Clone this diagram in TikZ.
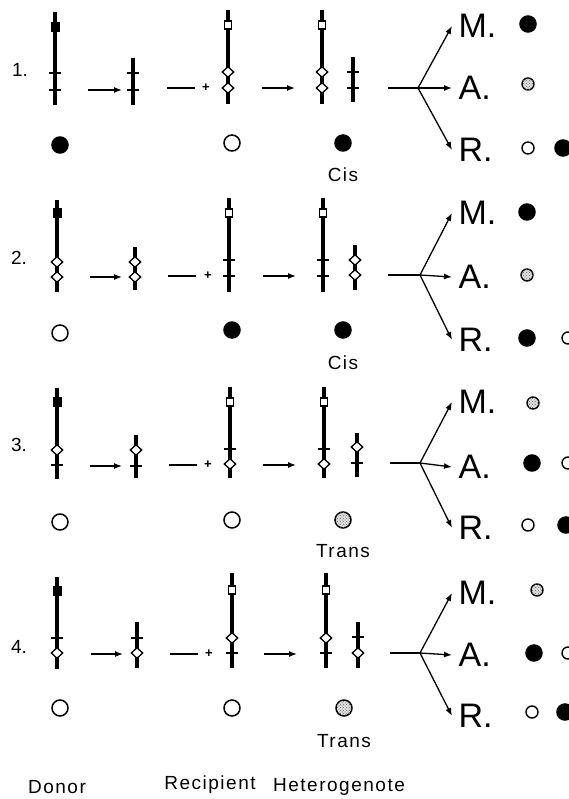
\documentclass[tikz,border=0pt]{standalone}
\usepackage{fontspec}
\setmainfont{Liberation Sans}
\usetikzlibrary{arrows.meta, shapes.geometric, patterns}

\tikzset{
	chrom/.style={line width=3.5pt},
	tk/.style={fill, minimum width=12pt, minimum height=2.2pt},
	sqf/.style={fill, minimum width=9pt, minimum height=10pt},
	sqo/.style={draw, fill=white, line width=1.3pt, minimum width=7pt, minimum height=8pt},
	dia/.style={diamond, draw, fill=white, line width=1.3pt, minimum width=12pt, minimum height=11pt},
	big/.style={circle, draw, line width=1.5pt, minimum size=16pt},
	small/.style={circle, draw, line width=1.4pt, minimum size=12pt},
	full/.style={fill=black},
	empty/.style={fill=white},
	stip/.style={fill=black!12, postaction={pattern=crosshatch dots, pattern color=black!60}},
	rownum/.style={font=\fontsize{19}{19}\selectfont},
	mar/.style={font=\fontsize{34}{34}\selectfont, anchor=west, inner sep=6pt},
	lbl/.style={font=\fontsize{19}{19}\selectfont\addfontfeature{LetterSpace=8}},
	plus/.style={font=\fontsize{13}{13}\selectfont\bfseries}
}

\begin{document}
\begin{tikzpicture}[x=1pt, y=-1pt, >={Latex[length=8pt,width=6pt]}, line width=1.3pt, inner sep=0pt]
	\useasboundingbox (0,0) rectangle (569,799);

	% ---- 1.
	\node[rownum] (n1) at (20,70) {1.};
	\draw[chrom] (55,12) -- (55,105);
	\node[sqf] (d1sq) at (55,27) {};
	\node[tk] (d1t1) at (55,73) {};
	\node[tk] (d1t2) at (55,90) {};
	\node[big, full] (d1c) at (60,145) {};

	\coordinate (f1a) at (88,90);
	\coordinate (f1b) at (122,90);
	\draw[->] (f1a) -- (f1b);
	\draw[chrom] (133,58) -- (133,105);
	\node[tk] (f1t1) at (133,73) {};
	\node[tk] (f1t2) at (133,90) {};

	\coordinate (p1a) at (167,88);
	\coordinate (p1b) at (195,88);
	\draw (p1a) -- (p1b);
	\node[plus] (p1) at (206,88) {+};

	\draw[chrom] (228,10) -- (228,104);
	\node[sqo] (r1sq) at (228,25) {};
	\node[dia] (r1d1) at (228,72) {};
	\node[dia] (r1d2) at (228,88) {};
	\node[big, empty] (r1c) at (232,143) {};

	\coordinate (h1a) at (262,88);
	\coordinate (h1b) at (295,88);
	\draw[->] (h1a) -- (h1b);
	\draw[chrom] (322,10) -- (322,104);
	\node[sqo] (h1sq) at (322,25) {};
	\node[dia] (h1d1) at (322,72) {};
	\node[dia] (h1d2) at (322,88) {};
	\draw[chrom] (353,57) -- (353,102);
	\node[tk] (h1t1) at (353,72) {};
	\node[tk] (h1t2) at (353,88) {};
	\node[big, full] (h1c) at (343,143) {};
	\node[lbl] (h1l) at (343,175) {Cis};

	\coordinate (s1) at (388,88);
	\coordinate (j1) at (418,88);
	\node[mar] (m1) at (452,26) {M.};
	\node[mar] (a1) at (452,88) {A.};
	\node[mar] (rr1) at (452,150) {R.};
	\draw (s1) -- (j1);
	\draw[->] (j1) -- (m1.west);
	\draw[->] (j1) -- (a1.west);
	\draw[->] (j1) -- (rr1.west);
	\node[big, full] (m1c) at (528,24) {};
	\node[small, stip] (a1c) at (528,84) {};
	\node[small, empty] (rr1c1) at (528,148) {};
	\node[big, full] (rr1c2) at (563,148) {};

	% ---- 2.
	\node[rownum] (n2) at (19,258) {2.};
	\draw[chrom] (57,200) -- (57,292);
	\node[sqf] (d2sq) at (57,213) {};
	\node[dia] (d2d1) at (57,262) {};
	\node[dia] (d2d2) at (57,277) {};
	\node[big, empty] (d2c) at (60,333) {};

	\coordinate (f2a) at (90,277);
	\coordinate (f2b) at (122,277);
	\draw[->] (f2a) -- (f2b);
	\draw[chrom] (135,247) -- (135,290);
	\node[dia] (f2d1) at (135,262) {};
	\node[dia] (f2d2) at (135,277) {};

	\coordinate (p2a) at (168,276);
	\coordinate (p2b) at (196,276);
	\draw (p2a) -- (p2b);
	\node[plus] (p2) at (208,276) {+};

	\draw[chrom] (229,198) -- (229,292);
	\node[sqo] (r2sq) at (229,213) {};
	\node[tk] (r2t1) at (229,260) {};
	\node[tk] (r2t2) at (229,276) {};
	\node[big, full] (r2c) at (232,330) {};

	\coordinate (h2a) at (263,276);
	\coordinate (h2b) at (296,276);
	\draw[->] (h2a) -- (h2b);
	\draw[chrom] (323,198) -- (323,292);
	\node[sqo] (h2sq) at (323,213) {};
	\node[tk] (h2t1) at (323,260) {};
	\node[tk] (h2t2) at (323,276) {};
	\draw[chrom] (355,245) -- (355,290);
	\node[dia] (h2d1) at (355,260) {};
	\node[dia] (h2d2) at (355,275) {};
	\node[big, full] (h2c) at (343,330) {};
	\node[lbl] (h2l) at (343,363) {Cis};

	\coordinate (s2) at (388,275);
	\coordinate (j2) at (420,275);
	\node[mar] (m2) at (452,213) {M.};
	\node[mar] (a2) at (452,277) {A.};
	\node[mar] (rr2) at (452,340) {R.};
	\draw (s2) -- (j2);
	\draw[->] (j2) -- (m2.west);
	\draw[->] (j2) -- (a2.west);
	\draw[->] (j2) -- (rr2.west);
	\node[big, full] (m2c) at (527,212) {};
	\node[small, stip] (a2c) at (527,275) {};
	\node[big, full] (rr2c1) at (527,338) {};
	\node[small, empty] (rr2c2) at (568,338) {};

	% ---- 3.
	\node[rownum] (n3) at (19,445) {3.};
	\draw[chrom] (57,388) -- (57,479);
	\node[sqf] (d3sq) at (57,402) {};
	\node[dia] (d3d1) at (57,450) {};
	\node[tk] (d3t1) at (57,465) {};
	\node[big, empty] (d3c) at (60,522) {};

	\coordinate (f3a) at (90,466);
	\coordinate (f3b) at (122,466);
	\draw[->] (f3a) -- (f3b);
	\draw[chrom] (136,435) -- (136,478);
	\node[dia] (f3d1) at (136,450) {};
	\node[tk] (f3t1) at (136,466) {};

	\coordinate (p3a) at (169,465);
	\coordinate (p3b) at (197,465);
	\draw (p3a) -- (p3b);
	\node[plus] (p3) at (208,465) {+};

	\draw[chrom] (230,387) -- (230,478);
	\node[sqo] (r3sq) at (230,402) {};
	\node[tk] (r3t1) at (230,449) {};
	\node[dia] (r3d1) at (230,464) {};
	\node[big, empty] (r3c) at (232,520) {};

	\coordinate (h3a) at (263,465);
	\coordinate (h3b) at (296,465);
	\draw[->] (h3a) -- (h3b);
	\draw[chrom] (324,387) -- (324,478);
	\node[sqo] (h3sq) at (324,402) {};
	\node[tk] (h3t1) at (324,449) {};
	\node[dia] (h3d1) at (324,464) {};
	\draw[chrom] (357,433) -- (357,477);
	\node[dia] (h3d2) at (357,447) {};
	\node[tk] (h3t2) at (357,463) {};
	\node[big, stip] (h3c) at (343,520) {};
	\node[lbl] (h3l) at (343,551) {Trans};

	\coordinate (s3) at (390,463);
	\coordinate (j3) at (420,463);
	\node[mar] (m3) at (452,402) {M.};
	\node[mar] (a3) at (452,467) {A.};
	\node[mar] (rr3) at (452,528) {R.};
	\draw (s3) -- (j3);
	\draw[->] (j3) -- (m3.west);
	\draw[->] (j3) -- (a3.west);
	\draw[->] (j3) -- (rr3.west);
	\node[small, stip] (m3c) at (533,403) {};
	\node[big, full] (a3c1) at (532,463) {};
	\node[small, empty] (a3c2) at (568,463) {};
	\node[small, empty] (rr3c1) at (528,525) {};
	\node[big, full] (rr3c2) at (566,525) {};

	% ---- 4.
	\node[rownum] (n4) at (19,647) {4.};
	\draw[chrom] (57,577) -- (57,669);
	\node[sqf] (d4sq) at (57,591) {};
	\node[tk] (d4t1) at (57,638) {};
	\node[dia] (d4d1) at (57,653) {};
	\node[big, empty] (d4c) at (60,708) {};

	\coordinate (f4a) at (91,654);
	\coordinate (f4b) at (123,654);
	\draw[->] (f4a) -- (f4b);
	\draw[chrom] (137,622) -- (137,668);
	\node[tk] (f4t1) at (137,638) {};
	\node[dia] (f4d1) at (137,653) {};

	\coordinate (p4a) at (170,654);
	\coordinate (p4b) at (198,654);
	\draw (p4a) -- (p4b);
	\node[plus] (p4) at (209,654) {+};

	\draw[chrom] (232,573) -- (232,668);
	\node[sqo] (r4sq) at (232,590) {};
	\node[dia] (r4d1) at (232,638) {};
	\node[tk] (r4t1) at (232,653) {};
	\node[big, empty] (r4c) at (232,708) {};

	\coordinate (h4a) at (264,654);
	\coordinate (h4b) at (297,654);
	\draw[->] (h4a) -- (h4b);
	\draw[chrom] (326,573) -- (326,668);
	\node[sqo] (h4sq) at (326,590) {};
	\node[dia] (h4d1) at (326,638) {};
	\node[tk] (h4t1) at (326,653) {};
	\draw[chrom] (358,622) -- (358,668);
	\node[tk] (h4t2) at (358,637) {};
	\node[dia] (h4d2) at (358,653) {};
	\node[big, stip] (h4c) at (344,708) {};
	\node[lbl] (h4l) at (344,741) {Trans};

	\coordinate (s4) at (390,653);
	\coordinate (j4) at (420,653);
	\node[mar] (m4) at (452,593) {M.};
	\node[mar] (a4) at (452,655) {A.};
	\node[mar] (rr4) at (452,716) {R.};
	\draw (s4) -- (j4);
	\draw[->] (j4) -- (m4.west);
	\draw[->] (j4) -- (a4.west);
	\draw[->] (j4) -- (rr4.west);
	\node[small, stip] (m4c) at (537,590) {};
	\node[big, full] (a4c1) at (534,653) {};
	\node[small, empty] (a4c2) at (568,653) {};
	\node[small, empty] (rr4c1) at (532,712) {};
	\node[big, full] (rr4c2) at (565,712) {};

	% column captions
	\node[lbl] (donor) at (57,787) {Donor};
	\node[lbl] (recip) at (210,785) {Recipient};
	\node[lbl] (heter) at (339,787) {Heterogenote};
\end{tikzpicture}
\end{document}
